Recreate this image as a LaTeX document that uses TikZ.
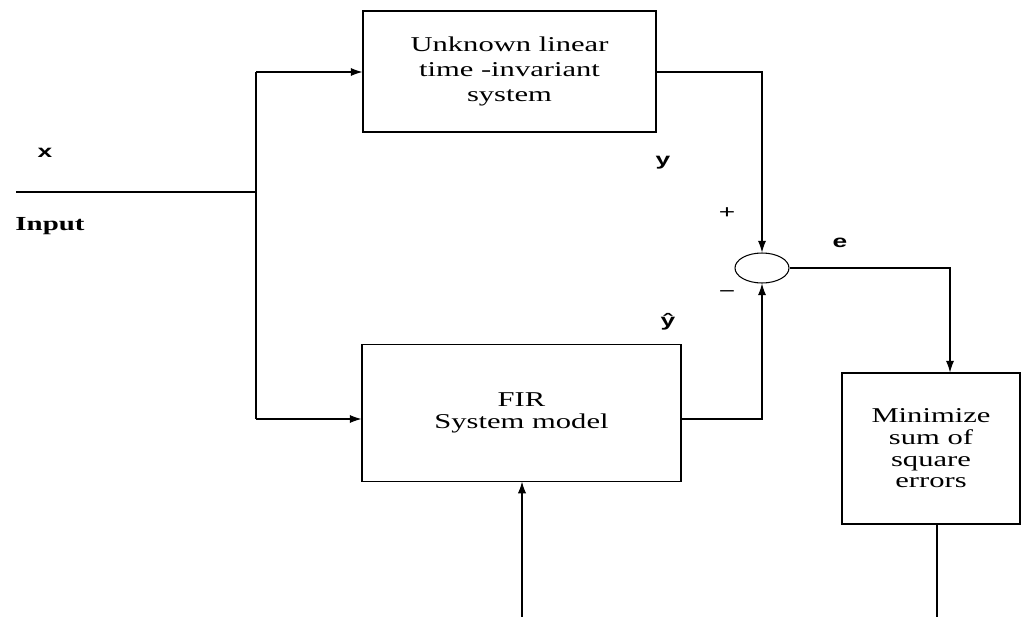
\documentclass[tikz,border=0pt]{standalone}
\usepackage{fontspec}
\setmainfont{Liberation Serif}[FakeStretch=1.45]
\newfontfamily\labfont{Liberation Sans}[FakeStretch=1.5]
\usetikzlibrary{positioning, shapes.geometric, arrows.meta}

\begin{document}
\begin{tikzpicture}[x=0.03cm, y=-0.03cm, >={Latex[length=10pt,width=7pt]}, line width=0.9pt]
\tikzstyle{block}=[rectangle,draw=black,line width=0.9pt,align=center,inner sep=0pt,font=\fontsize{18}{21}\selectfont]
\tikzstyle{junction}=[ellipse,draw=black,minimum width=1.62cm,minimum height=0.9cm,inner sep=0pt]
\tikzstyle{sig}=[inner sep=0pt,font=\labfont\bfseries\fontsize{15}{16}\selectfont]
\tikzstyle{sgn}=[inner sep=0pt,font=\labfont\fontsize{16}{16}\selectfont]
\useasboundingbox (0,0) rectangle (1022,617);
% blocks
\node [block,minimum width=8.79cm,minimum height=3.63cm] (plant) at (509.5,71.5) {Unknown linear\\ time -invariant\\ system};
\node [block,minimum width=9.57cm,minimum height=4.11cm,font=\fontsize{18}{18.5}\selectfont] (fir) [below=6.33cm of plant,xshift=0.36cm] {FIR\\ System model};
\node [junction] (sum) at (762,268) {};
\node [block,minimum width=5.34cm,minimum height=4.53cm,font=\fontsize{18}{18.5}\selectfont] (minimize) at (931,448.5) {Minimize\\ sum of\\ square\\ errors};
% signal labels
\node [sig] (xlab) at (45,153) {x};
\node [inner sep=0pt,font=\bfseries\fontsize{17}{18}\selectfont] (inlab) at (50,226) {Input};
\node [sig] (ylab) at (663,163) {y};
\node [sig] (yhatlab) at (668,322) {ŷ};
\node [sgn] (plus) at (727,213) {+};
\node [sgn] (minus) at (727,294) {−};
\node [sig] (elab) at (840,243) {e};
% connectors
\coordinate (inlet) at (16,192);
\coordinate (split) at (256,192);
\coordinate (splitup) at (256,72);
\coordinate (splitdown) at (256,419);
\coordinate (eturn) at (950,268);
\coordinate (adapt) at (522,617);
\coordinate (minout) at (937,617);
\draw (inlet) -- (split);
\draw (splitup) -- (splitdown);
\draw [->] (splitup) -- (splitup -| plant.west);
\draw [->] (splitdown) -- (splitdown -| fir.west);
\draw [->] (plant.east |- splitup) -| (sum.north);
\draw [->] (fir.east |- splitdown) -| (sum.south);
\draw [->] (sum.east) -- (eturn) -- (eturn |- minimize.north);
\draw [->] (adapt) -- (adapt |- fir.south);
\draw (minout |- minimize.south) -- (minout);
\end{tikzpicture}
\end{document}
